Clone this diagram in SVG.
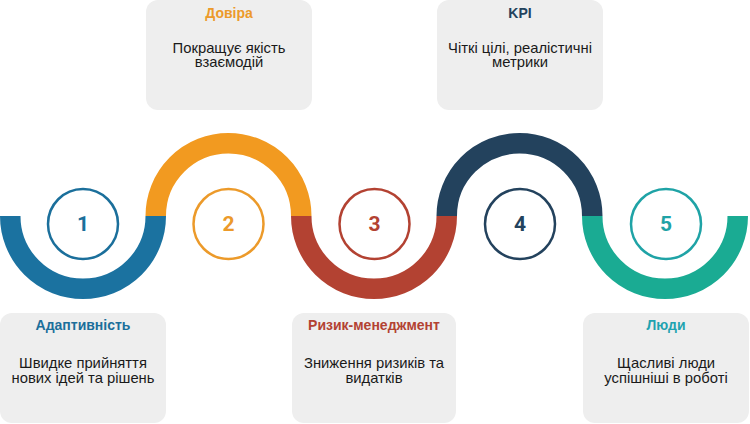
<svg xmlns="http://www.w3.org/2000/svg" width="750" height="424" viewBox="0 0 750 424">
<style>
.box{fill:#eeeeee;}
.arc{fill:none;stroke-width:20.5;stroke-linecap:butt;}
.ring{fill:#ffffff;stroke-width:2.5;}
.num{font-family:Roboto,"Liberation Sans",sans-serif;font-weight:700;font-size:21px;text-anchor:middle;}
.title{font-family:"Liberation Sans",Arial,sans-serif;font-weight:700;font-size:14px;text-anchor:middle;}
.body{font-family:"Liberation Sans",Arial,sans-serif;font-size:14.8px;fill:#1a1a1a;text-anchor:middle;}
</style>
<rect width="750" height="424" fill="#ffffff"/>
<g id="connectors">
<path class="arc" stroke="#1b72a0" d="M10.25,216 A72.75,72.75 0 0 0 155.75,216"/>
<path class="arc" stroke="#f29a20" d="M155.75,216 A72.75,72.75 0 0 1 301.25,216"/>
<path class="arc" stroke="#b34232" d="M301.25,216 A72.75,72.75 0 0 0 446.75,216"/>
<path class="arc" stroke="#23425d" d="M446.75,216 A72.75,72.75 0 0 1 592.25,216"/>
<path class="arc" stroke="#1aab93" d="M592.25,216 A72.75,72.75 0 0 0 737.75,216"/>
</g>
<g id="node1">
<circle class="ring" cx="83" cy="224" r="35" stroke="#1b6f9b"/>
<text class="num" x="83" y="231" fill="#1b6f9b">1</text>
<rect class="box" x="0" y="313" width="166" height="110" rx="12"/>
<text class="title" x="83" y="330" fill="#1b6f9b">Адаптивність</text>
<text class="body" x="83" y="368">Швидке прийняття</text>
<text class="body" x="83" y="382.5">нових ідей та рішень</text>
</g>
<g id="node2">
<circle class="ring" cx="228.5" cy="224" r="35" stroke="#ec9a2a"/>
<text class="num" x="228.5" y="231" fill="#ec9a2a">2</text>
<rect class="box" x="146" y="0" width="166" height="110" rx="12"/>
<text class="title" x="229" y="17.5" fill="#ec9a2a">Довіра</text>
<text class="body" x="229" y="52.5">Покращує якість</text>
<text class="body" x="229" y="67">взаємодій</text>
</g>
<g id="node3">
<circle class="ring" cx="374.5" cy="224" r="35" stroke="#b34232"/>
<text class="num" x="374.5" y="231" fill="#b34232">3</text>
<rect class="box" x="292" y="313" width="164" height="110" rx="12"/>
<text class="title" x="374" y="330" fill="#b34232">Ризик-менеджмент</text>
<text class="body" x="374" y="368">Зниження ризиків та</text>
<text class="body" x="374" y="382.5">видатків</text>
</g>
<g id="node4">
<circle class="ring" cx="520" cy="224" r="35" stroke="#23425d"/>
<text class="num" x="520" y="231" fill="#23425d">4</text>
<rect class="box" x="437" y="0" width="166" height="110" rx="12"/>
<text class="title" x="520" y="17.5" fill="#23425d">KPI</text>
<text class="body" x="520" y="52.5">Чіткі цілі, реалістичні</text>
<text class="body" x="520" y="67">метрики</text>
</g>
<g id="node5">
<circle class="ring" cx="666" cy="224" r="35" stroke="#1fa3a6"/>
<text class="num" x="666" y="231" fill="#1fa3a6">5</text>
<rect class="box" x="583" y="313" width="166" height="110" rx="12"/>
<text class="title" x="666" y="330" fill="#1fa3b0">Люди</text>
<text class="body" x="666" y="368">Щасливі люди</text>
<text class="body" x="666" y="382.5">успішніші в роботі</text>
</g>
</svg>
